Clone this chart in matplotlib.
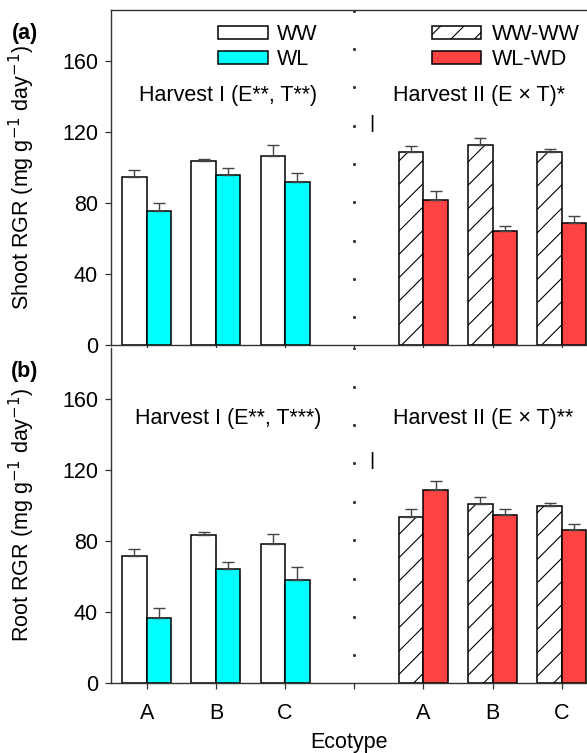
import matplotlib.pyplot as plt
import numpy as np
from matplotlib.patches import Patch

# rendered at 70 dpi so that the "/" hatch spacing matches the original;
# k converts sizes tuned for 100 dpi
DPI = 70
k = 100 / DPI

plt.rcParams["font.family"] = ["Liberation Sans", "DejaVu Sans"]
plt.rcParams["hatch.linewidth"] = 0.8 * k

ecotypes = ["A", "B", "C"]

# shoot RGR (panel a)
shoot_ww = [94.6, 103.7, 106.3]
shoot_ww_err = [4.2, 1.3, 6.4]
shoot_wl = [75.5, 95.6, 92.0]
shoot_wl_err = [4.7, 4.1, 5.1]
shoot_wwww = [108.9, 112.7, 108.9]
shoot_wwww_err = [3.4, 3.7, 1.5]
shoot_wlwd = [81.7, 64.2, 68.7]
shoot_wlwd_err = [5.2, 2.9, 4.0]

# root RGR (panel b)
root_ww = [71.2, 83.2, 77.9]
root_ww_err = [4.1, 1.5, 5.7]
root_wl = [36.8, 64.2, 57.9]
root_wl_err = [5.3, 3.6, 7.1]
root_wwww = [93.3, 100.8, 99.3]
root_wwww_err = [4.7, 3.6, 1.7]
root_wlwd = [108.7, 94.6, 86.2]
root_wlwd_err = [4.7, 3.0, 3.0]

cyan = "#00FFFF"
red = "#FF4242"
axcol = "#333333"
fs = 15.5 * k

pos1 = np.array([1, 2, 3])
pos2 = np.array([5, 6, 7])
w = 0.354


def draw_bars(ax, x, vals, err, **kw):
    ax.bar(x, vals, width=w, edgecolor="black", linewidth=1.1 * k, **kw)
    ax.errorbar(x, vals, yerr=[np.zeros(len(vals)), err], fmt="none",
                ecolor="#444444", elinewidth=1.0 * k, capsize=4 * k,
                capthick=1.0 * k)


fig = plt.figure(figsize=(587 / DPI, 753 / DPI), dpi=DPI)
ax1 = fig.add_axes([111 / 587, 1 - 345 / 753, 476 / 587, 335 / 753])
ax2 = fig.add_axes([111 / 587, 1 - 683 / 753, 476 / 587, 335.5 / 753])

panels = [
    (ax1, shoot_ww, shoot_ww_err, shoot_wl, shoot_wl_err,
     shoot_wwww, shoot_wwww_err, shoot_wlwd, shoot_wlwd_err),
    (ax2, root_ww, root_ww_err, root_wl, root_wl_err,
     root_wwww, root_wwww_err, root_wlwd, root_wlwd_err),
]

for ax, ww, wwe, wl, wle, wwww, wwwwe, wlwd, wlwde in panels:
    draw_bars(ax, pos1 - w / 2, ww, wwe, color="white")
    draw_bars(ax, pos1 + w / 2, wl, wle, color=cyan)
    draw_bars(ax, pos2 - w / 2, wwww, wwwwe, color="white", hatch="/")
    draw_bars(ax, pos2 + w / 2, wlwd, wlwde, color=red)

    # dotted separator between the two harvests
    dots = np.arange(15.5, 190, 21.6)
    ax.plot(np.full(len(dots), 4.0), dots, ls="none", marker="s",
            ms=1.3 * k, color=axcol)
    ax.text(4.256, 125, "|", ha="center", va="center", fontsize=14 * k)

    ax.set_xlim(0.484, 7.363)
    ax.set_ylim(0, 188.7)
    ax.set_yticks([0, 40, 80, 120, 160])
    ax.set_xticks([1, 2, 3, 4, 5, 6, 7])
    ax.set_xticklabels(ecotypes + [""] + ecotypes)
    ax.spines["right"].set_visible(False)
    for s in ["left", "bottom", "top"]:
        ax.spines[s].set_color(axcol)
        ax.spines[s].set_linewidth(1.0 * k)
    ax.tick_params(axis="both", direction="out", length=4.3 * k,
                   width=0.9 * k, color=axcol, labelsize=fs)
    ax.tick_params(axis="x", pad=10 * k)
    ax.tick_params(axis="y", pad=5 * k)

ax1.tick_params(axis="x", labelbottom=False)
ax2.spines["top"].set_visible(False)

ax1.set_ylabel("Shoot RGR (mg g$^{-1}$ day$^{-1}$)", fontsize=fs)
ax2.set_ylabel("Root RGR (mg g$^{-1}$ day$^{-1}$)", fontsize=fs)
ax1.yaxis.set_label_coords(-0.155, 0.5)
ax2.yaxis.set_label_coords(-0.155, 0.5)
ax2.set_xlabel("Ecotype", fontsize=fs, labelpad=6 * k)

ax1.text(0.89, 140.8, "Harvest I (E**, T**)", ha="left", va="center", fontsize=fs)
ax1.text(4.56, 140.8, "Harvest II (E × T)*", ha="left", va="center", fontsize=fs)
ax2.text(0.83, 148.7, "Harvest I (E**, T***)", ha="left", va="center", fontsize=fs)
ax2.text(4.56, 148.7, "Harvest II (E × T)**", ha="left", va="center", fontsize=fs)

fig.text(25 / 587, 1 - 33 / 753, "(a)", fontsize=fs, fontweight="bold",
         ha="center", va="center")
fig.text(25 / 587, 1 - 371 / 753, "(b)", fontsize=fs, fontweight="bold",
         ha="center", va="center")

leg_kw = dict(frameon=False, fontsize=fs, handlelength=2.3, handleheight=0.56,
              labelspacing=0.2, borderpad=0, borderaxespad=0, loc="upper left")
h1 = [Patch(facecolor="white", edgecolor="black", linewidth=1.1 * k, label="WW"),
      Patch(facecolor=cyan, edgecolor="black", linewidth=1.1 * k, label="WL")]
h2 = [Patch(facecolor="white", edgecolor="black", linewidth=1.1 * k, hatch="/",
            label="WW-WW"),
      Patch(facecolor=red, edgecolor="black", linewidth=1.1 * k, label="WL-WD")]
leg1 = ax1.legend(handles=h1, bbox_to_anchor=(0.2248, 0.959),
                  handletextpad=0.45, **leg_kw)
ax1.add_artist(leg1)
ax1.legend(handles=h2, bbox_to_anchor=(0.674, 0.959), handletextpad=0.5,
           **leg_kw)

fig.savefig("out.png", dpi=DPI)
